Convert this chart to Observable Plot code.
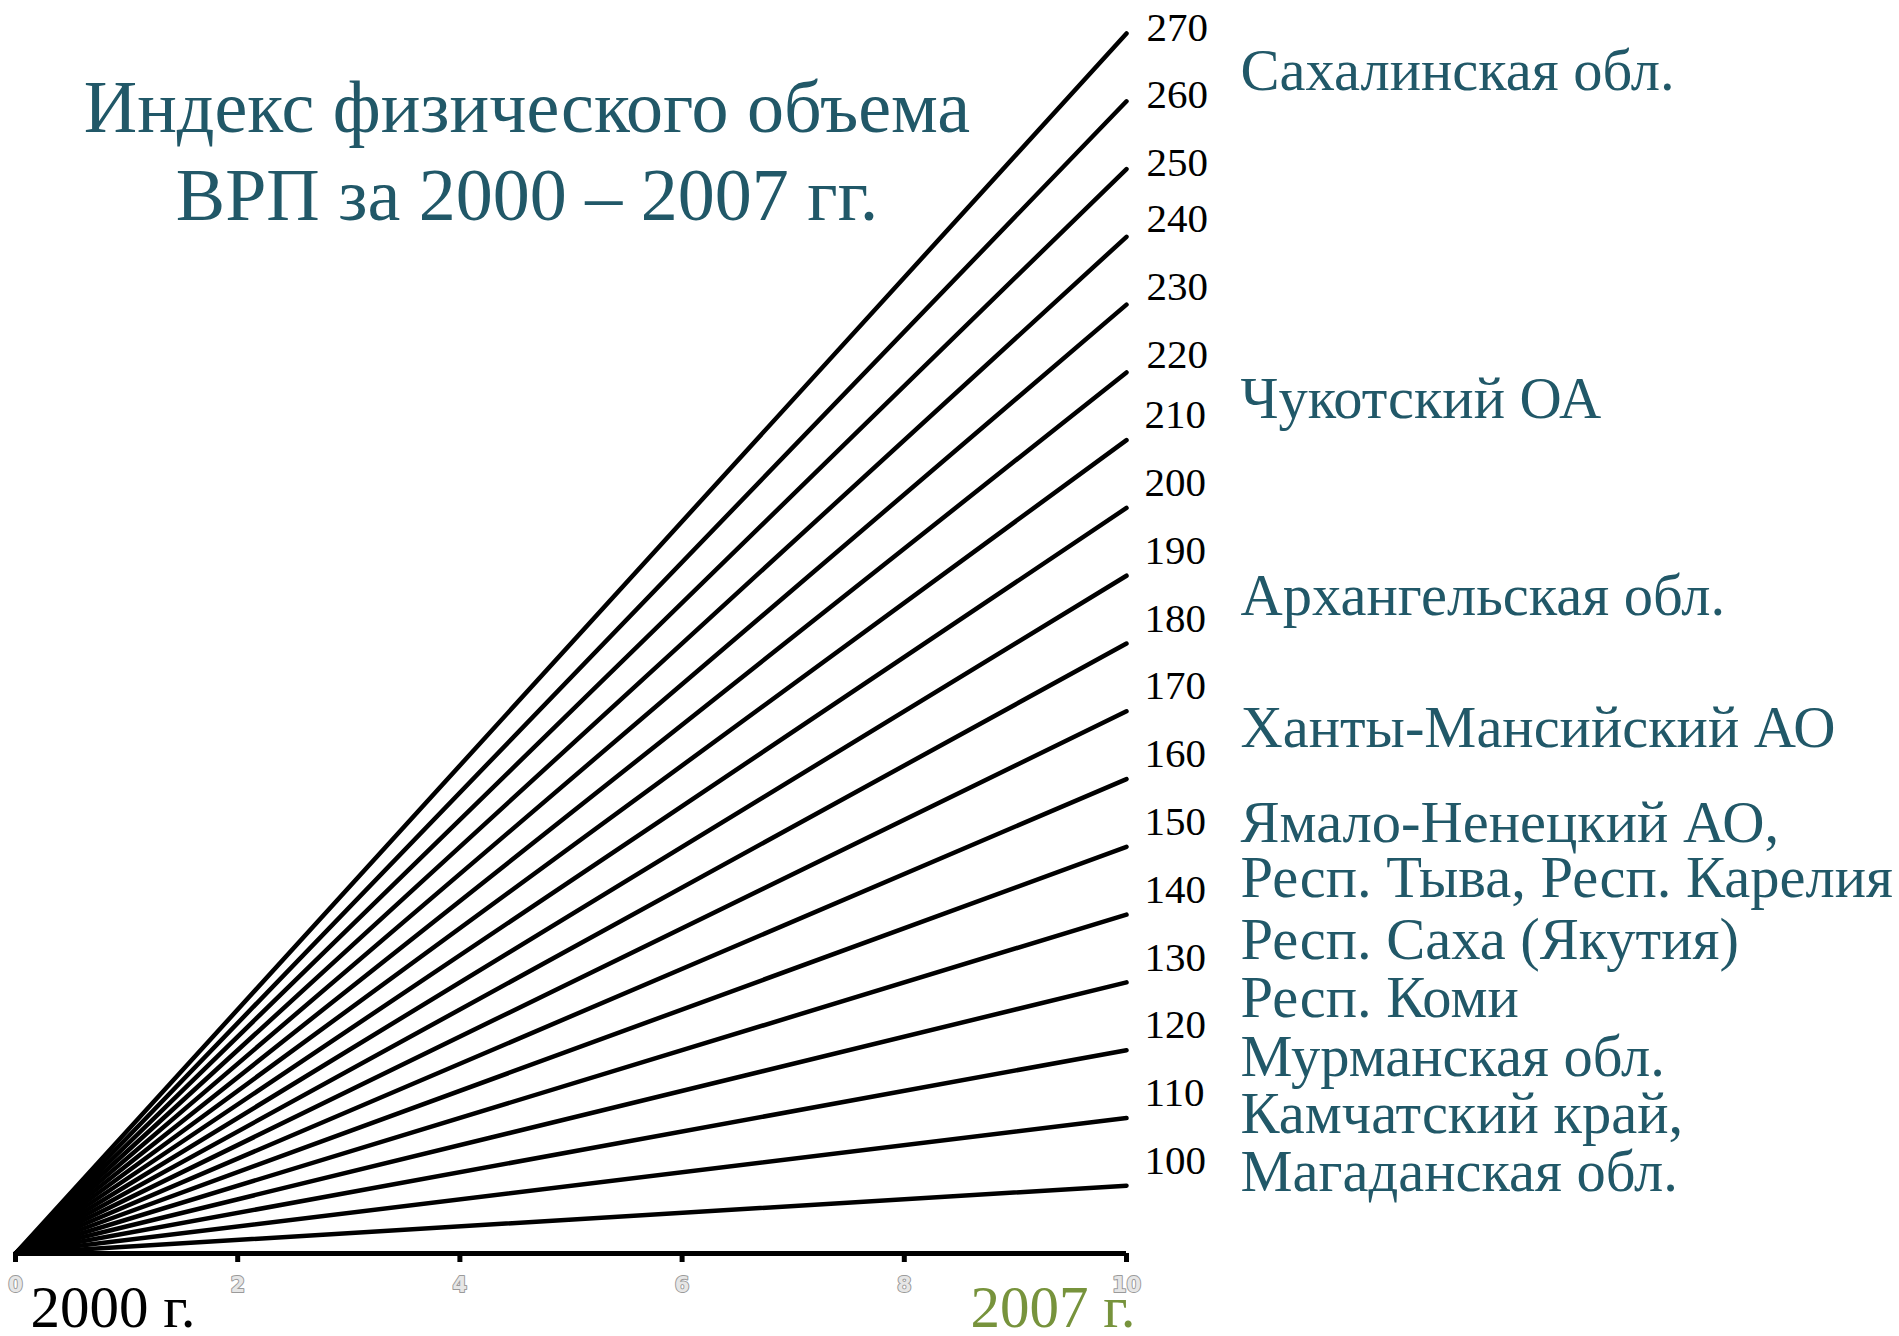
<!DOCTYPE html>
<html>
<head>
<meta charset="utf-8">
<script src="https://cdn.jsdelivr.net/npm/d3@7"></script>
<script src="https://cdn.jsdelivr.net/npm/@observablehq/plot@0.6"></script>
<style>
  html, body { margin: 0; padding: 0; background: #fff; }
  #wrap { position: relative; width: 1899px; height: 1336px; overflow: hidden; }
  #title {
    position: absolute; left: 527px; top: 63px; transform: translateX(-50%);
    font-family: "Liberation Serif", "Times New Roman", serif; font-size: 74px;
    line-height: 88px; color: #215868; text-align: center; white-space: nowrap;
  }
</style>
</head>
<body>
<div id="wrap">
  <div id="chart"></div>
  <div id="title">Индекс физического объема<br>ВРП за 2000 – 2007 гг.</div>
</div>
<script>
// Index values at the end of each fan line (2007, 2000 = base)
const baseValue = 90;
const indexValues = [100, 110, 120, 130, 140, 150, 160, 170, 180, 190, 200, 210, 220, 230, 240, 250, 260, 270];
// x axis ticks
const xTicks = [0, 2, 4, 6, 8, 10];
const xStart = 0;
const xEnd = 10;
// Region annotations and the index level they sit at
const regionNames = [
  "Сахалинская обл.",
  "Чукотский ОА",
  "Архангельская обл.",
  "Ханты-Мансийский АО",
  "Ямало-Ненецкий АО,",
  "Респ. Тыва, Респ. Карелия",
  "Респ. Саха (Якутия)",
  "Респ. Коми",
  "Мурманская обл.",
  "Камчатский край,",
  "Магаданская обл."
];
const regionLevels = [264.5, 216, 187, 167.5, 153.5, 145.3, 136.2, 127.7, 119, 110.5, 102];
// year labels
const yearLabels = ["2000 г.", "2007 г."];

const teal = "#215868";
const olive = "#77933C";
const serif = "Liberation Serif, Times New Roman, serif";

const lineData = indexValues.flatMap(v => [
  {series: v, x: xStart, y: baseValue},
  {series: v, x: xEnd, y: v}
]);
const regions = regionNames.map((name, i) => ({name, level: regionLevels[i]}));

const chart = Plot.plot({
  width: 1899,
  height: 1336,
  marginLeft: 15,
  marginRight: 773,
  marginTop: 33,
  marginBottom: 83,
  x: {domain: [xStart, xEnd]},
  y: {domain: [baseValue, 270], axis: null},
  style: {background: "white"},
  marks: [
    Plot.line(lineData, {x: "x", y: "y", z: "series", stroke: "black", strokeWidth: 4.5, strokeLinecap: "round"}),
    Plot.ruleY([baseValue], {x1: xStart, x2: xEnd, stroke: "black", strokeWidth: 5}),
    Plot.axisX({ticks: xTicks, tickSize: 9, strokeWidth: 5, stroke: "black", tickFormat: () => "", label: null}),
    Plot.text(xTicks, {x: d => d, text: d => String(d), frameAnchor: "bottom", lineAnchor: "middle", dy: 32,
      fontSize: 21, fontWeight: "bold", fontFamily: "DejaVu Sans", fill: "#e6e6e6", stroke: "#9a9a9a", strokeWidth: 2}),
    Plot.text(indexValues.filter(v => v <= 210), {x: () => xEnd, y: d => d, text: d => String(d),
      textAnchor: "start", dx: 18, dy: -25, fontSize: 41, fontFamily: serif, fill: "black"}),
    Plot.text(indexValues.filter(v => v > 210 && v < 250), {x: () => xEnd, y: d => d, text: d => String(d),
      textAnchor: "start", dx: 20, dy: -18, fontSize: 41, fontFamily: serif, fill: "black"}),
    Plot.text(indexValues.filter(v => v >= 250), {x: () => xEnd, y: d => d, text: d => String(d),
      textAnchor: "start", dx: 20, dy: -6, fontSize: 41, fontFamily: serif, fill: "black"}),
    Plot.text(regions, {x: () => xEnd, y: "level", text: "name", textAnchor: "start", dx: 114,
      fontSize: 58.5, fontFamily: serif, fill: teal}),
    Plot.text([yearLabels[0]], {x: () => xStart, frameAnchor: "bottom", lineAnchor: "middle", textAnchor: "start", text: d => d,
      dx: 15, dy: 55, fontSize: 59, fontFamily: serif, fill: "black"}),
    Plot.text([yearLabels[1]], {x: () => xEnd, frameAnchor: "bottom", lineAnchor: "middle", textAnchor: "end", text: d => d,
      dx: 9, dy: 55, fontSize: 59, fontFamily: serif, fill: olive})
  ]
});
document.getElementById("chart").appendChild(chart);
</script>
</body>
</html>
